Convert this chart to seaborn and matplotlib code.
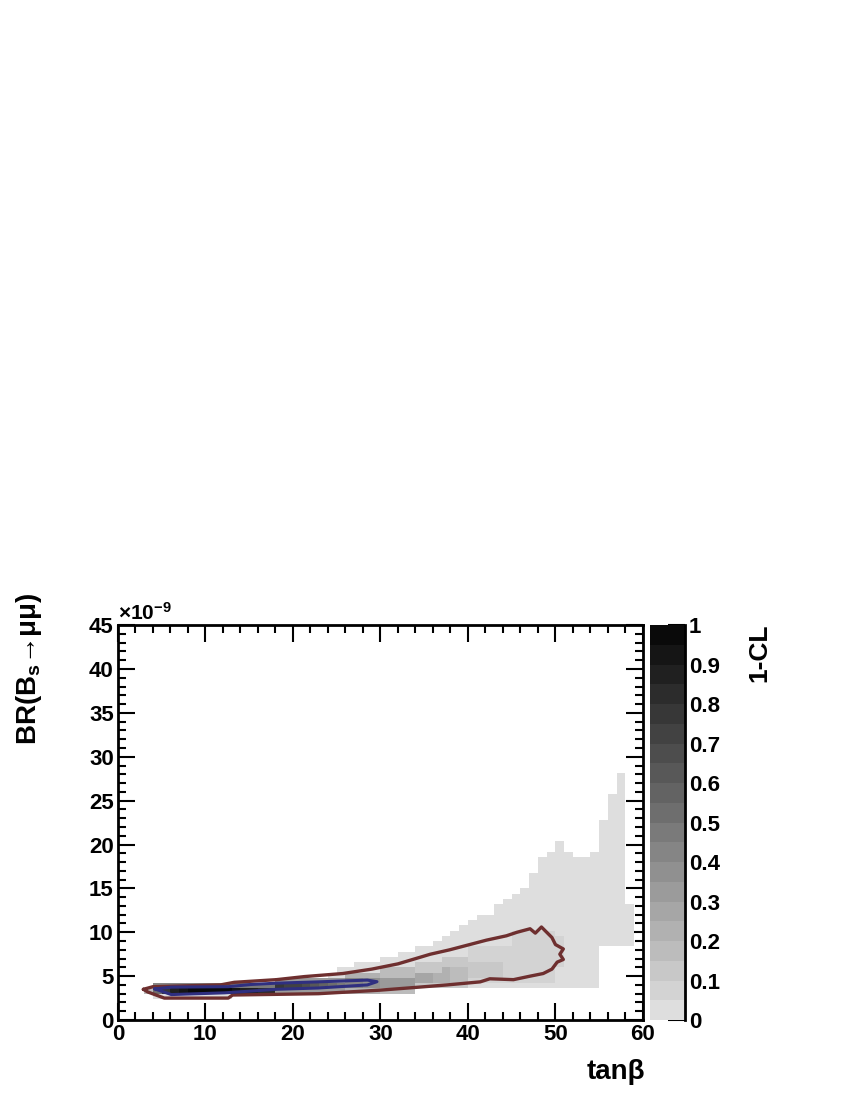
import numpy as np
import pandas as pd
import matplotlib
matplotlib.use("Agg")
import matplotlib.pyplot as plt
from matplotlib.colors import ListedColormap
from matplotlib.ticker import MultipleLocator
import seaborn as sns

sns.set_style("ticks")
plt.rcParams["font.family"] = ["Liberation Sans", "DejaVu Sans"]
plt.rcParams["font.weight"] = "bold"
plt.rcParams["axes.labelweight"] = "bold"
plt.rcParams["mathtext.default"] = "regular"
for key in ["text.color", "axes.labelcolor", "xtick.color", "ytick.color", "axes.edgecolor"]:
    plt.rcParams[key] = "black"

# tanb columns: left edge of 1-wide bins; BR values in units of 1e-9
tanb_cols = list(range(3, 59))

# extent of the populated (lightest) region per column
env_lo = [3.0] + [2.6] * 8 + [2.6] + [3.0] * 10 + [3.0] * 9 + [3.4] * 9 + [3.6] * 14 + [8.4] * 4
env_hi = ([3.6] + [3.9] * 8 + [4.2] + [4.4] * 5 + [4.7] * 3 + [5.0] * 3
          + [5.6, 5.9, 6.2, 6.4, 6.6, 6.8, 7.0, 7.2, 7.5, 7.8, 8.1, 8.4, 8.9, 9.4, 9.9,
             10.6, 11.4, 12.2, 12.2, 13.0, 13.7, 14.5, 15.2, 16.7, 18.6, 19.4, 20.2,
             19.4, 18.6, 18.6, 19.4, 22.5, 25.8, 28.3, 13.0])

# band inside the 95% region
inner_lo = [0] + [3.9] * 9 + [3.9] * 5 + [3.3] * 8 + [3.3] * 4 + [3.3] * 4 + [3.9] * 3 + [3.9] * 3 + [4.5] * 5 + [4.5] * 5 + [6.3] + [0] * 8
inner_hi = [0] + [3.9] * 9 + [3.9] * 5 + [4.5] * 8 + [5.1] * 4 + [5.7] * 4 + [6.3] * 3 + [6.9] * 3 + [8.1] * 5 + [9.9] * 5 + [9.3] + [0] * 8
inner_val = [0] + [0.4] * 9 + [0.45] * 5 + [0.3] * 8 + [0.22] * 4 + [0.16] * 4 + [0.13] * 3 + [0.1] * 3 + [0.07] * 5 + [0.06] * 5 + [0.06] + [0] * 8

# ridge of the 1-CL distribution
core_lo = [3.3] + [3.3] * 14 + [3.9] * 8 + [3.9] * 8 + [4.5] * 3 + [4.5] * 3 + [5.1] * 5 + [5.7] * 5 + [0] * 9
core_hi = [3.3] + [3.3] * 14 + [3.9] * 8 + [4.5] * 8 + [5.1] * 3 + [5.7] * 3 + [6.3] * 5 + [7.5] * 5 + [0] * 9
core_val = ([0.15]
            + [0.5, 0.75, 0.85, 0.92, 0.95, 0.98, 1.0, 0.98, 0.95, 0.9, 0.88, 0.85, 0.82, 0.8]
            + [0.75, 0.72, 0.7, 0.66, 0.6, 0.55, 0.5, 0.46]
            + [0.42, 0.4, 0.38, 0.35, 0.33, 0.32, 0.3, 0.3]
            + [0.28, 0.25, 0.22]
            + [0.2, 0.18, 0.15]
            + [0.13, 0.12, 0.1, 0.1, 0.09]
            + [0.08, 0.08, 0.07, 0.07, 0.06]
            + [0] * 9)

# 95% CL contour (outer) and 68% CL contour (inner)
red_x = [2.9, 4.0, 11.7, 13.3, 18.1, 21.3, 25.7, 29.0, 32.0, 35.7, 37.9, 40.2, 42.1, 44.4,
         45.6, 47.1, 47.7, 48.4, 49.6, 50.0, 50.9, 50.5, 50.9, 50.2, 49.6, 48.6, 47.1,
         45.2, 42.5, 41.4, 37.6, 33.8, 29.9, 22.9, 13.1, 12.6, 5.3, 3.4, 2.9]
red_y = [3.5, 3.8, 4.0, 4.3, 4.6, 4.95, 5.3, 5.8, 6.4, 7.5, 8.0, 8.6, 9.1, 9.6,
         10.0, 10.4, 9.9, 10.6, 9.4, 8.6, 8.1, 7.5, 6.9, 6.6, 5.8, 5.3, 5.0,
         4.6, 4.7, 4.35, 4.0, 3.7, 3.4, 3.0, 2.85, 2.5, 2.5, 3.2, 3.5]
blue_x = [4.2, 6.1, 12.6, 15.2, 18.1, 22.9, 28.5, 29.6, 28.5, 22.9, 18.1, 15.2, 12.2, 6.1, 4.2]
blue_y = [3.55, 3.75, 3.8, 4.05, 4.2, 4.35, 4.55, 4.37, 4.0, 3.65, 3.5, 3.3, 3.1, 2.9, 3.55]

cbar_ticks = [0, 0.1, 0.2, 0.3, 0.4, 0.5, 0.6, 0.7, 0.8, 0.9, 1.0]
cbar_labels = ["0", "0.1", "0.2", "0.3", "0.4", "0.5", "0.6", "0.7", "0.8", "0.9", "1"]

# build the cell table
br_centers = np.arange(0.3, 45.0, 0.6)
cells = []
for i, t in enumerate(tanb_cols):
    for b in br_centers:
        v = 0.0
        if env_lo[i] - 1e-6 <= b <= env_hi[i] + 1e-6:
            v = 0.02
        if inner_val[i] and inner_lo[i] - 1e-6 <= b <= inner_hi[i] + 1e-6:
            v = inner_val[i]
        if core_val[i] and core_lo[i] - 1e-6 <= b <= core_hi[i] + 1e-6:
            v = core_val[i]
        if v > 0:
            cells.append((t + 0.5, b, v))
df = pd.DataFrame(cells, columns=["tanb", "br", "cl"])

grays = np.linspace(0.87, 0.04, 20)
cmap = ListedColormap([(g, g, g) for g in grays])

fig = plt.figure(figsize=(8.5, 11), dpi=100)
ax = fig.add_axes([0.1388, 0.0727, 0.6176, 0.359])
cax = fig.add_axes([0.7647, 0.0727, 0.041, 0.359])

sns.histplot(data=df, x="tanb", y="br", weights="cl",
             bins=[np.arange(0, 61, 1.0), np.linspace(0, 45, 76)],
             cmap=cmap, vmin=0, vmax=1, cbar=True, cbar_ax=cax, ax=ax)

sns.lineplot(x=red_x, y=red_y, sort=False, estimator=None, color="#6e2f2f",
             lw=2.4, ax=ax, solid_joinstyle="round")
sns.lineplot(x=blue_x, y=blue_y, sort=False, estimator=None, color="#2f2f80",
             lw=2.2, ax=ax, solid_joinstyle="round")

ax.set_xlim(0, 60)
ax.set_ylim(0, 45)
ax.xaxis.set_major_locator(MultipleLocator(10))
ax.xaxis.set_minor_locator(MultipleLocator(2))
ax.yaxis.set_major_locator(MultipleLocator(5))
ax.yaxis.set_minor_locator(MultipleLocator(1))
ax.tick_params(which="both", direction="in", top=True, right=True, width=1.5,
               labelsize=16, color="black")
ax.tick_params(which="major", length=12, pad=3)
ax.tick_params(which="minor", length=6)
for sp in ax.spines.values():
    sp.set_linewidth(2)
    sp.set_color("black")

ax.set_xlabel("tanβ", fontsize=20, loc="right")
ax.xaxis.set_label_coords(1.004, -0.098)
ax.set_ylabel("BR(B$_s$→μμ)", fontsize=20, loc="top")
ax.yaxis.set_label_coords(-0.14, 1.083)
ax.text(0.0, 1.003, "×10$^{-9}$", transform=ax.transAxes, ha="left", va="bottom",
        fontsize=15)

cbar = ax.collections[0].colorbar
cbar.outline.set_visible(False)
cax.spines["right"].set_visible(True)
cax.spines["right"].set_linewidth(2)
cax.spines["right"].set_color("black")
cbar.set_ticks(cbar_ticks)
cbar.set_ticklabels(cbar_labels)
cax.tick_params(direction="in", length=12, width=1.5, labelsize=16, pad=3, color="black")
cax.minorticks_off()
cbar.set_label("1-CL", fontsize=19, loc="top", rotation=90)
cax.yaxis.set_label_coords(2.8, 1.005)

fig.savefig("out.png", dpi=100)
